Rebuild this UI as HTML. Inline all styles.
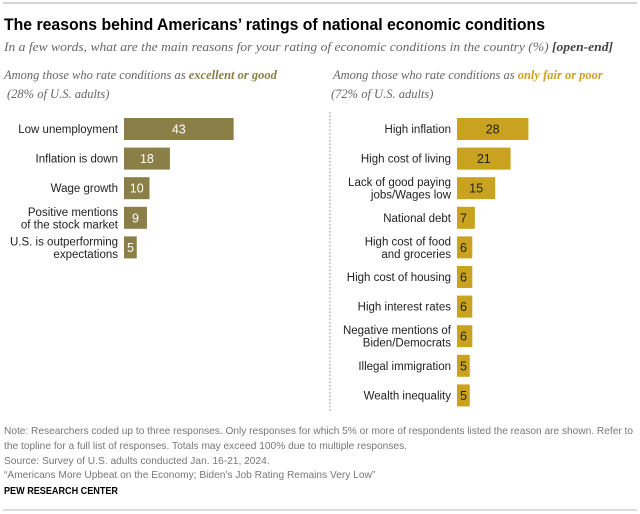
<!DOCTYPE html>
<html><head><meta charset="utf-8">
<style>
body{margin:0;background:#fff;}
svg{display:block;font-family:"Liberation Sans",sans-serif;}
.ser{font-family:"Liberation Serif",serif;font-style:italic;}
</style></head>
<body>
<svg width="640" height="514" viewBox="0 0 640 514">
<line x1="3" y1="3" x2="637" y2="3" stroke="#aaa" stroke-width="1"/>
<text x="4" y="30" font-size="17" font-weight="bold" fill="#000" textLength="541" lengthAdjust="spacingAndGlyphs">The reasons behind Americans’ ratings of national economic conditions</text>
<text x="4" y="51" font-size="12.5" fill="#666" class="ser" textLength="609" lengthAdjust="spacingAndGlyphs">In a few words, what are the main reasons for your rating of economic conditions in the country (%) <tspan font-weight="bold" fill="#444">[open-end]</tspan></text>
<text x="4" y="79" font-size="12.5" fill="#666" class="ser">Among those who rate conditions as <tspan font-weight="bold" fill="#8a7f47">excellent or good</tspan></text>
<text x="7" y="98" font-size="12.5" fill="#666" class="ser">(28% of U.S. adults)</text>
<text x="333" y="79" font-size="12.5" fill="#666" class="ser">Among those who rate conditions as <tspan font-weight="bold" fill="#c9a21f">only fair or poor</tspan></text>
<text x="331" y="98" font-size="12.5" fill="#666" class="ser">(72% of U.S. adults)</text>
<line x1="330" y1="112" x2="330" y2="412" stroke="#888" stroke-width="1" stroke-dasharray="1.5,2"/>
<g id="left"></g>
<g id="right"></g>
<g font-size="10.2" fill="#777">
<text x="4" y="434" textLength="629" lengthAdjust="spacingAndGlyphs">Note: Researchers coded up to three responses. Only responses for which 5% or more of respondents listed the reason are shown. Refer to</text>
<text x="4" y="449">the topline for a full list of responses. Totals may exceed 100% due to multiple responses.</text>
<text x="4" y="464">Source: Survey of U.S. adults conducted Jan. 16-21, 2024.</text>
<text x="4" y="478">“Americans More Upbeat on the Economy; Biden’s Job Rating Remains Very Low”</text>
</g>
<text x="4" y="494" font-size="10.5" font-weight="bold" fill="#000" textLength="114" lengthAdjust="spacingAndGlyphs">PEW RESEARCH CENTER</text>
<line x1="3" y1="510" x2="637" y2="510" stroke="#bbb" stroke-width="1"/>
</svg>
<script>
const leftCats=[["Low unemployment"],["Inflation is down"],["Wage growth"],["Positive mentions","of the stock market"],["U.S. is outperforming","expectations"]];
const leftVals=[43,18,10,9,5];
const rightCats=[["High inflation"],["High cost of living"],["Lack of good paying","jobs/Wages low"],["National debt"],["High cost of food","and groceries"],["High cost of housing"],["High interest rates"],["Negative mentions of","Biden/Democrats"],["Illegal immigration"],["Wealth inequality"]];
const rightVals=[28,21,15,7,6,6,6,6,5,5];
const NS="http://www.w3.org/2000/svg";
const scale=v=>v*2.55;
const rowY=i=>129+i*29.6;
function draw(gid,cats,vals,x0,color,txtColor,side){
  const g=document.getElementById(gid);
  cats.forEach((lines,i)=>{
    const cy=rowY(i);
    const r=document.createElementNS(NS,'rect');
    r.setAttribute('x',x0);r.setAttribute('y',cy-11);
    r.setAttribute('width',scale(vals[i]));r.setAttribute('height',22);
    r.setAttribute('fill',color);
    
    
    g.appendChild(r);
    const v=document.createElementNS(NS,'text');
    const w=scale(vals[i]);
    v.setAttribute('x',w<20?x0+3:x0+w/2);
    v.setAttribute('text-anchor',w<20?'start':'middle');
    v.setAttribute('y',cy+4.5);v.setAttribute('font-size','12.5');v.setAttribute('fill',txtColor);
    v.textContent=vals[i];
    
    
    g.appendChild(v);
    const t=document.createElementNS(NS,'text');
    t.setAttribute('text-anchor','end');t.setAttribute('font-size','11.5');t.setAttribute('fill','#222');
    const off=lines.length===1?4:-2;
    lines.forEach((ln,k)=>{
      const ts=document.createElementNS(NS,'tspan');
      ts.setAttribute('x',x0-6);ts.setAttribute('y',cy+off+k*12.5);
      ts.textContent=ln;t.appendChild(ts);
    });
    
    
    g.appendChild(t);
  });
}
draw('left',leftCats,leftVals,124,'#8a7f47','#fff','left');
draw('right',rightCats,rightVals,457,'#c9a21f','#222','right');
</script>
</body></html>
